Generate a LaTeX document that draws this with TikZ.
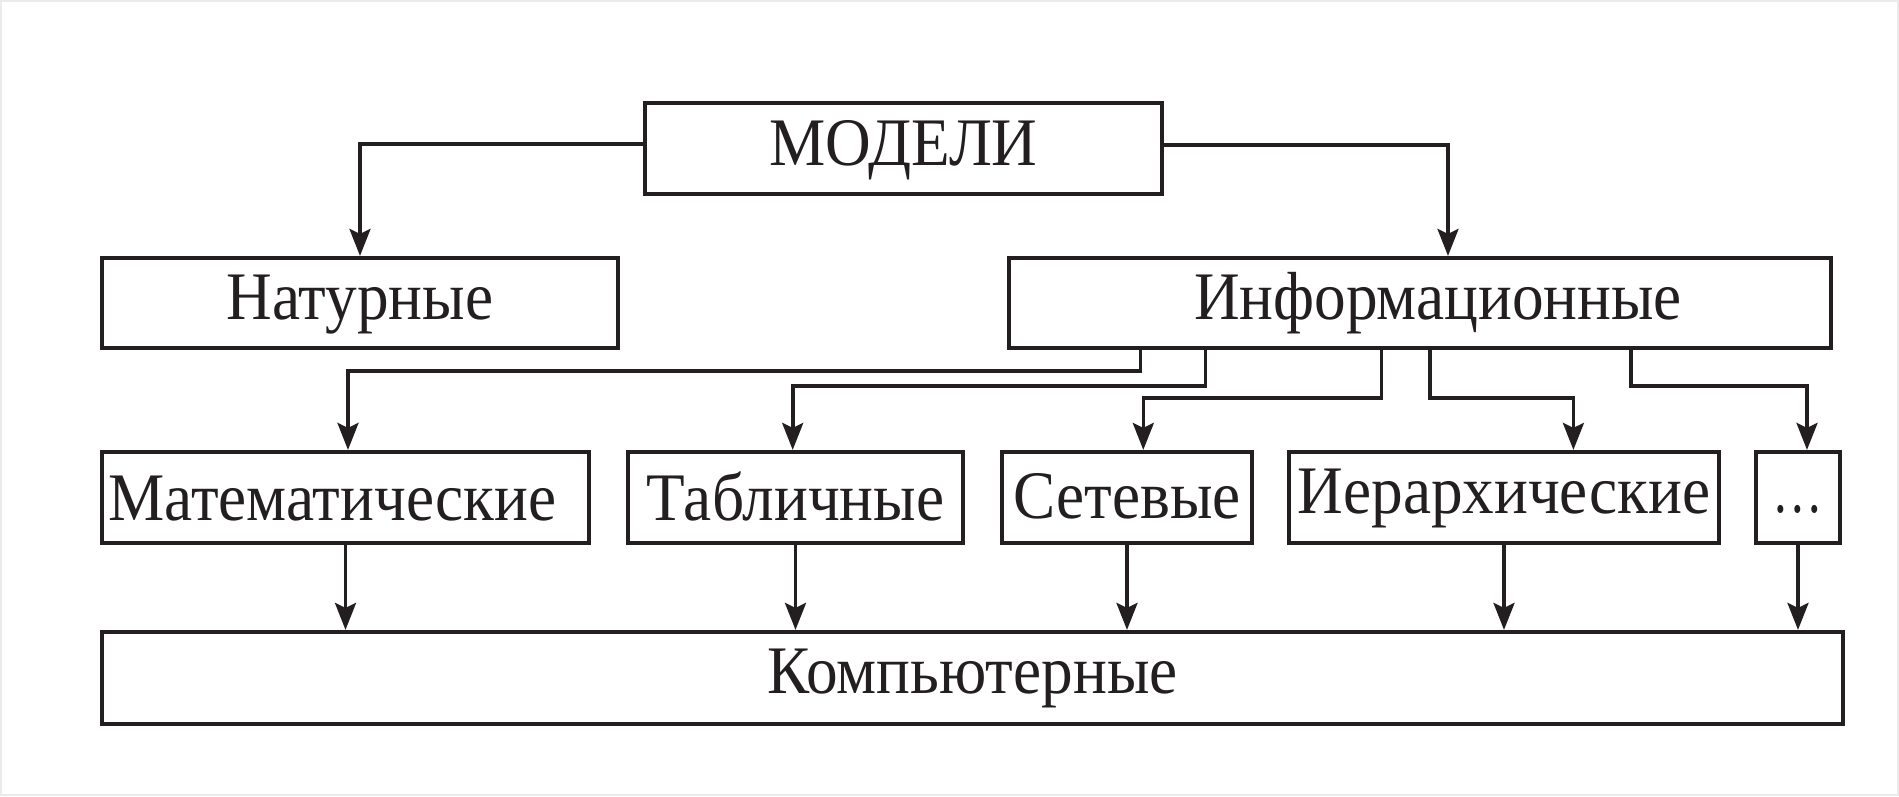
\documentclass[tikz,border=0pt]{standalone}
\usepackage{fontspec}
\setmainfont{Liberation Serif}[FakeStretch=0.93]
\usetikzlibrary{arrows.meta}
\definecolor{ink}{RGB}{35,31,32}
\definecolor{frame}{RGB}{235,235,235}
\tikzset{
  x=1pt, y=-1pt,
  box/.style={draw=ink, line width=4.2pt, inner sep=0pt, text=ink,
    font=\fontsize{68}{74}\selectfont, text depth=12pt, text height=44pt},
  arr/.style={draw=ink, line width=3.6pt,
    -{Stealth[length=27pt, width=21pt, inset=5pt]}},
}
\begin{document}
\begin{tikzpicture}
\fill[white] (0,0) rectangle (1899,796);
\draw[frame, line width=2pt] (1,1) rectangle (1898,795);
\useasboundingbox (0,0) rectangle (1899,796);

\node[box, minimum width=517pt, minimum height=91pt, text height=46pt] (modeli) at (903.5,148.5) {МОДЕЛИ};
\node[box, minimum width=516pt, minimum height=90pt] (nat) at (360,303) {Натурные};
\node[box, minimum width=822pt, minimum height=90pt] (inf) at (1420,303) {\hspace*{36pt}Информационные};
\node[box, minimum width=487pt, minimum height=91pt, text height=57pt] (mat) at (345.5,497.5) {Математические\hspace*{26pt}};
\node[box, minimum width=335pt, minimum height=91pt, text height=57pt] (tab) at (795.5,497.5) {Табличные};
\node[box, minimum width=250pt, minimum height=91pt, text height=53pt] (set) at (1127,497.5) {Сетевые};
\node[box, minimum width=430pt, minimum height=91pt, text height=43pt] (ier) at (1504,497.5) {Иерархические};
\node[box, minimum width=84pt, minimum height=91pt, text height=42pt] (dots) at (1798,497.5) {\scalebox{0.8}[1]{…}};
\node[box, minimum width=1741pt, minimum height=92pt, text height=42pt] (komp) at (972.5,678) {Компьютерные};

\draw[arr] ([yshift=4.5pt]modeli.west) -| (nat.north);
\draw[arr] ([yshift=3.5pt]modeli.east) -| ([xshift=28pt]inf.north);

\draw[arr] ([xshift=-279.5pt]inf.south) -- ++(0,21) -| ([xshift=2.5pt]mat.north);
\draw[arr] ([xshift=-214.7pt]inf.south) -- ++(0,35.7) -| ([xshift=-2.8pt]tab.north);
\draw[arr] ([xshift=-38.7pt]inf.south) -- ++(0,47.7) -| ([xshift=16.3pt]set.north);
\draw[arr] ([xshift=10pt]inf.south) -- ++(0,47.7) -| ([xshift=69.4pt]ier.north);
\draw[arr] ([xshift=210.7pt]inf.south) -- ++(0,35.7) -| ([xshift=9pt]dots.north);

\foreach \n in {mat,tab,set,ier,dots}
  \draw[arr] (\n.south) -- (\n.south |- komp.north);
\end{tikzpicture}
\end{document}
